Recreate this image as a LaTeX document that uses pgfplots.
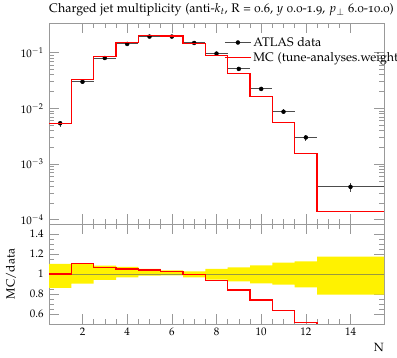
\documentclass[border=0pt]{standalone}
\usepackage[T1]{fontenc}
\usepackage[osf]{mathpazo}
\usepackage{pgfplots}
\pgfplotsset{compat=1.18}

\pgfplotstableread{
x    y        ex   eyp       eym
1    0.0054   0.5  0.00054   0.00076
2    0.030    0.5  0.0032    0.0029
3    0.080    0.5  0.0066    0.0048
4    0.143    0.5  0.010     0.0049
5    0.194    0.5  0.0097    0.0033
6    0.194    0.5  0.0070    0.0027
7    0.149    0.5  0.0039    0.0051
8    0.096    0.5  0.0048    0.0055
9    0.051    0.5  0.0034    0.0038
10   0.0223   0.5  0.0019    0.0021
11   0.0087   0.5  0.00098   0.00093
12   0.0030   0.5  0.00038   0.00040
14   0.00039  1.5  0.000067  0.000081
}\datatable

\definecolor{axgray}{gray}{0.6}
\definecolor{oneline}{rgb}{0.6,0.6,0.25}
\definecolor{mcred}{rgb}{1,0,0}
\definecolor{databar}{gray}{0.3}

\pgfplotsset{
  rivetaxis/.style={
    scale only axis, width=335bp,
    xmin=0.5, xmax=15.5,
    clip marker paths=true,
    axis line style={axgray}, tick style={axgray, line width=0.6bp},
    tick align=inside,
    major tick length=10bp, minor tick length=5bp,
    xtick={2,4,...,14}, minor x tick num=3,
    ticklabel style={font=\fontsize{11}{13}\selectfont, black},
    yticklabel style={xshift=-2bp},
  }
}

\begin{document}
\begin{tikzpicture}
\useasboundingbox (0,0) rectangle (397bp,358bp);

% ratio panel
\begin{axis}[rivetaxis,
  at={(49bp,34bp)}, anchor=south west, height=100bp,
  ymin=0.5, ymax=1.5,
  ytick={0.6,0.8,1,1.2,1.4}, minor y tick num=3,
  ylabel={MC/data},
  ylabel style={at={(axis description cs:-0.113,0.5)}, anchor=center, font=\fontsize{12}{14}\selectfont},
  xlabel={N},
  xlabel style={at={(axis description cs:1,0)}, anchor=north east, inner sep=0pt, yshift=-19bp, font=\fontsize{12}{14}\selectfont},
]
\addplot[fill=yellow, draw=none] coordinates {
(0.5,1.100)(1.5,1.100)(1.5,1.106)(2.5,1.106)(2.5,1.083)(3.5,1.083)(3.5,1.070)(4.5,1.070)
(4.5,1.050)(5.5,1.050)(5.5,1.036)(6.5,1.036)(6.5,1.026)(7.5,1.026)(7.5,1.050)(8.5,1.050)
(8.5,1.066)(9.5,1.066)(9.5,1.086)(10.5,1.086)(10.5,1.113)(11.5,1.113)(11.5,1.126)(12.5,1.126)
(12.5,1.173)(15.5,1.173)
(15.5,0.793)(12.5,0.793)(12.5,0.866)(11.5,0.866)(11.5,0.893)(10.5,0.893)(10.5,0.906)(9.5,0.906)
(9.5,0.926)(8.5,0.926)(8.5,0.943)(7.5,0.943)(7.5,0.966)(6.5,0.966)(6.5,0.986)(5.5,0.986)
(5.5,0.983)(4.5,0.983)(4.5,0.966)(3.5,0.966)(3.5,0.940)(2.5,0.940)(2.5,0.903)(1.5,0.903)
(1.5,0.860)(0.5,0.860)};
\addplot[oneline, line width=0.7bp] coordinates {(0.5,1)(15.5,1)};
\addplot[draw=mcred, line width=1.2bp] coordinates {
(0.5,1.000)(1.5,1.000)(1.5,1.106)(2.5,1.106)(2.5,1.066)(3.5,1.066)(3.5,1.050)(4.5,1.050)
(4.5,1.040)(5.5,1.040)(5.5,1.026)(6.5,1.026)(6.5,0.993)(7.5,0.993)(7.5,0.933)(8.5,0.933)
(8.5,0.840)(9.5,0.840)(9.5,0.740)(10.5,0.740)(10.5,0.633)(11.5,0.633)(11.5,0.516)(12.5,0.516)
(12.5,0.364)(15.5,0.364)};
\end{axis}

% main panel
\begin{axis}[rivetaxis,
  at={(49bp,134bp)}, anchor=south west, height=201bp,
  ymode=log, ymin=8.4e-5, ymax=0.34,
  ytick={1e-4,1e-3,1e-2,1e-1},
  xticklabels={},
  legend style={at={(axis description cs:0.52,0.945)}, anchor=north west, draw=none, fill=none,
    font=\fontsize{12.5}{14}\selectfont, row sep=0.5bp, inner sep=1bp},
  legend cell align=left,
]
\addplot[black, only marks, mark=*, mark size=2bp, forget plot,
  error bars/.cd, x dir=both, x explicit, y dir=both, y explicit,
  error mark=none, error bar style={databar, line width=1bp}]
  table[x=x, y=y, x error=ex, y error plus=eyp, y error minus=eym] {\datatable};
\addplot[draw=mcred, line width=1.2bp, forget plot] coordinates {
(0.5,0.0054)(1.5,0.0054)(1.5,0.0332)(2.5,0.0332)(2.5,0.0853)(3.5,0.0853)(3.5,0.150)(4.5,0.150)
(4.5,0.2018)(5.5,0.2018)(5.5,0.199)(6.5,0.199)(6.5,0.148)(7.5,0.148)(7.5,0.0896)(8.5,0.0896)
(8.5,0.0428)(9.5,0.0428)(9.5,0.0165)(10.5,0.0165)(10.5,0.0055)(11.5,0.0055)(11.5,0.00155)(12.5,0.00155)
(12.5,0.000142)(15.5,0.000142)};
\addlegendimage{legend image code/.code={\draw[databar, line width=1bp] (0bp,0bp) -- (26bp,0bp); \fill[black] (13bp,0bp) circle (2bp);}}
\addlegendentry{ATLAS data}
\addlegendimage{legend image code/.code={\draw[mcred, line width=1bp] (0bp,0bp) -- (26bp,0bp);}}
\addlegendentry{MC (tune-analyses.weights)}
\end{axis}

\node[anchor=base west, inner sep=0pt, font=\fontsize{12.5}{14}\selectfont] at (49bp,345bp)
  {Charged jet multiplicity (anti-$k_t$, R = 0.6, $y$ 0.0-1.9, $p_\perp$ 6.0-10.0)};
\end{tikzpicture}
\end{document}
